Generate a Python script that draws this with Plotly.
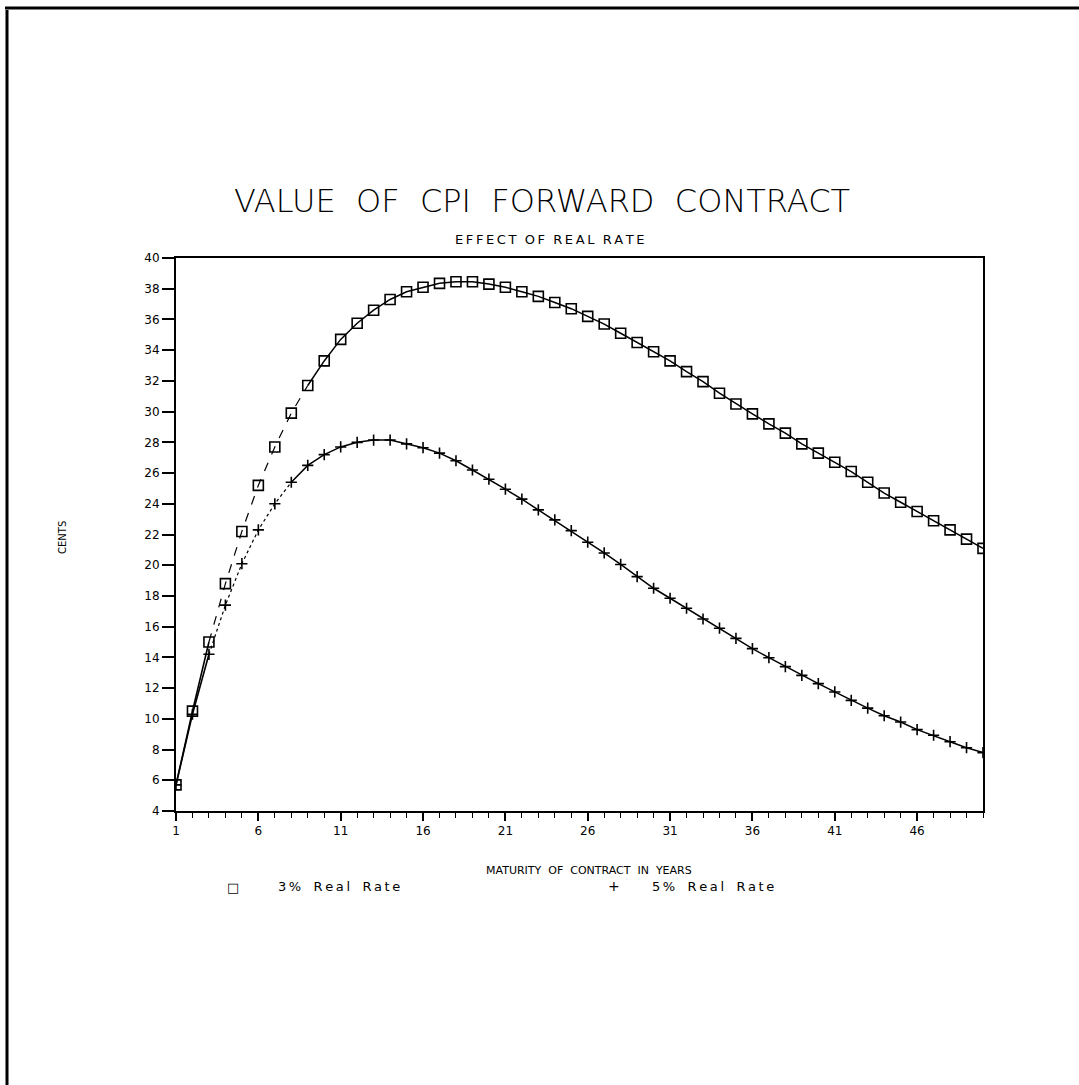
import plotly.graph_objects as go

years = list(range(1, 51))
real3 = [5.7, 10.5, 15.0, 18.8, 22.2, 25.2, 27.7, 29.9, 31.7, 33.3,
         34.7, 35.75, 36.6, 37.3, 37.8, 38.1, 38.35, 38.45, 38.45, 38.3,
         38.1, 37.8, 37.5, 37.1, 36.7, 36.2, 35.7, 35.1, 34.5, 33.9,
         33.3, 32.6, 31.95, 31.2, 30.5, 29.85, 29.2, 28.6, 27.9, 27.3,
         26.7, 26.1, 25.4, 24.7, 24.1, 23.5, 22.9, 22.3, 21.7, 21.1]
real5 = [5.7, 10.3, 14.2, 17.4, 20.1, 22.3, 24.0, 25.4, 26.5, 27.2,
         27.7, 28.0, 28.15, 28.15, 27.9, 27.65, 27.3, 26.8, 26.2, 25.6,
         24.95, 24.3, 23.6, 22.95, 22.25, 21.5, 20.8, 20.05, 19.26, 18.5,
         17.85, 17.2, 16.5, 15.9, 15.24, 14.57, 13.98, 13.4, 12.83, 12.29,
         11.75, 11.2, 10.7, 10.2, 9.79, 9.3, 8.93, 8.51, 8.12, 7.8]
x_ticks = [1, 6, 11, 16, 21, 26, 31, 36, 41, 46]
y_ticks = list(range(4, 41, 2))

title = "VALUE OF CPI FORWARD CONTRACT"
subtitle = "EFFECT OF REAL RATE"
x_title = "MATURITY OF CONTRACT IN YEARS"
y_title = "CENTS"
legend_names = ["3% Real Rate", "5% Real Rate"]

FONT = "DejaVu Sans"
fig = go.Figure()

def add_segments(y, symbol, size, dashed_range, dash):
    a, b = dashed_range
    fig.add_trace(go.Scatter(x=years[:a], y=y[:a], mode="lines",
                             line=dict(color="black", width=1.6), showlegend=False, hoverinfo="skip"))
    fig.add_trace(go.Scatter(x=years[a - 1:b], y=y[a - 1:b], mode="lines",
                             line=dict(color="black", width=1.2, dash=dash), showlegend=False, hoverinfo="skip"))
    fig.add_trace(go.Scatter(x=years[b - 1:], y=y[b - 1:], mode="lines",
                             line=dict(color="black", width=1.5), showlegend=False, hoverinfo="skip"))
    fig.add_trace(go.Scatter(x=years, y=y, mode="markers",
                             marker=dict(symbol=symbol, size=size, color="black",
                                         line=dict(color="black", width=1.6)),
                             showlegend=False, hoverinfo="skip"))

add_segments(real3, "square-open", 10, (3, 9), "dash")
add_segments(real5, "cross-thin", 8, (3, 8), "dot")

fig.update_xaxes(range=[1, 50], tickmode="array", tickvals=x_ticks,
                 ticks="outside", ticklen=8, tickwidth=1.5, tickcolor="black",
                 showline=True, linecolor="black", linewidth=2, mirror=True,
                 showgrid=False, zeroline=False,
                 minor=dict(dtick=1, tick0=1, ticks="outside", ticklen=5, tickwidth=1.2, tickcolor="black", showgrid=False),
                 tickfont=dict(family=FONT, size=12, color="black"))
fig.update_yaxes(range=[4, 40], tickmode="array", tickvals=y_ticks,
                 ticks="outside", ticklen=12, tickwidth=1.5, tickcolor="black",
                 showline=True, linecolor="black", linewidth=2, mirror=True,
                 showgrid=False, zeroline=False,
                 tickfont=dict(family=FONT, size=12, color="black"))

sp = "&nbsp;"
TS = "\u2009"

def spaced(s, gap=2):
    # widen plotter-style lettering: thin space between letters, wider word gaps
    return (sp * gap).join(TS.join(list(w)) for w in s.split(" "))

ann = [
    dict(text=title.replace(" ", sp * 2), x=542, y=201,
         font=dict(family=FONT, size=32, color="black", weight=200)),
    dict(text=spaced(subtitle), x=550, y=240, font=dict(family=FONT, size=13, color="black")),
    dict(text=x_title.replace(" ", sp * 2), x=589, y=870, font=dict(family=FONT, size=11, color="black")),
    dict(text="□", x=233, y=887, font=dict(family=FONT, size=13, color="black")),
    dict(text=spaced(legend_names[0], 3), x=276, y=886, xanchor="left",
         font=dict(family=FONT, size=13, color="black")),
    dict(text="+", x=614, y=886, font=dict(family=FONT, size=14, color="black")),
    dict(text=spaced(legend_names[1], 3), x=650, y=886, xanchor="left",
         font=dict(family=FONT, size=13, color="black")),
    dict(text=y_title, x=62, y=537, textangle=-90, font=dict(family=FONT, size=10, color="black")),
]

def px(xv):
    return (xv - 176) / (983 - 176)
def py(yv):
    return (811 - yv) / (811 - 258)

annotations = []
for a in ann:
    d = dict(xref="paper", yref="paper", showarrow=False, xanchor="center", yanchor="middle")
    d.update(a)
    d["x"] = px(a["x"])
    d["y"] = py(a["y"])
    annotations.append(d)

shapes = [
    dict(type="line", xref="paper", yref="paper", x0=px(7), x1=px(7), y0=py(10), y1=py(1085),
         line=dict(color="black", width=3)),
    dict(type="line", xref="paper", yref="paper", x0=px(5), x1=px(1079), y0=py(8), y1=py(8),
         line=dict(color="black", width=3)),
]

fig.update_layout(width=1079, height=1085, margin=dict(l=176, r=96, t=258, b=274),
                  plot_bgcolor="white", paper_bgcolor="white",
                  annotations=annotations, shapes=shapes, showlegend=False)

fig.write_html("out.html")
